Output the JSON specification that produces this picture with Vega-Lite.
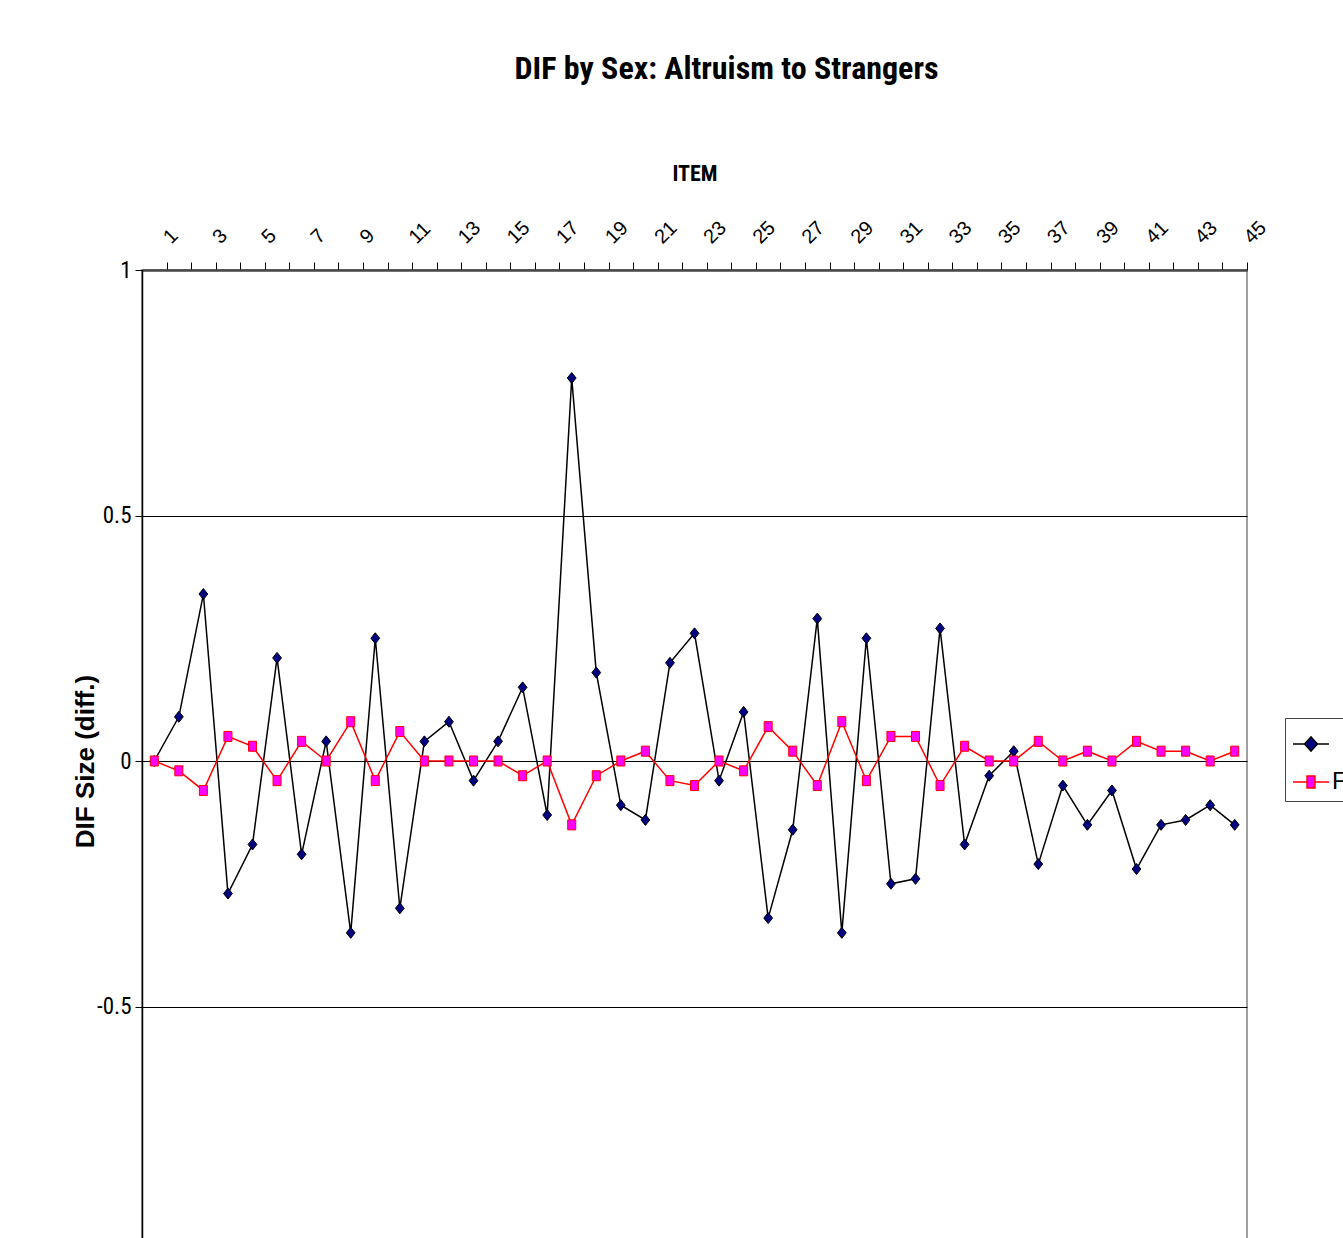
{
  "$schema": "https://vega.github.io/schema/vega-lite/v6.json",
  "autosize": {"type": "none"},
  "padding": {"left": 142, "top": 270, "right": 96, "bottom": 0},
  "width": 1105,
  "height": 982,
  "background": "white",
  "title": {
    "text": "DIF by Sex: Altruism to Strangers",
    "font": "Liberation Sans Narrow, Roboto Condensed, DejaVu Sans Condensed",
    "fontSize": 32,
    "fontWeight": "bold",
    "color": "black",
    "anchor": "middle",
    "frame": "group",
    "dx": 32,
    "offset": 76
  },
  "config": {
    "view": {"stroke": "#a0a0a0", "strokeWidth": 2}
  },
  "data": {
    "values": [
      {"item": 1, "series": "M", "dif": 0.00}, {"item": 1, "series": "F", "dif": 0.00},
      {"item": 2, "series": "M", "dif": 0.09}, {"item": 2, "series": "F", "dif": -0.02},
      {"item": 3, "series": "M", "dif": 0.34}, {"item": 3, "series": "F", "dif": -0.06},
      {"item": 4, "series": "M", "dif": -0.27}, {"item": 4, "series": "F", "dif": 0.05},
      {"item": 5, "series": "M", "dif": -0.17}, {"item": 5, "series": "F", "dif": 0.03},
      {"item": 6, "series": "M", "dif": 0.21}, {"item": 6, "series": "F", "dif": -0.04},
      {"item": 7, "series": "M", "dif": -0.19}, {"item": 7, "series": "F", "dif": 0.04},
      {"item": 8, "series": "M", "dif": 0.04}, {"item": 8, "series": "F", "dif": 0.00},
      {"item": 9, "series": "M", "dif": -0.35}, {"item": 9, "series": "F", "dif": 0.08},
      {"item": 10, "series": "M", "dif": 0.25}, {"item": 10, "series": "F", "dif": -0.04},
      {"item": 11, "series": "M", "dif": -0.30}, {"item": 11, "series": "F", "dif": 0.06},
      {"item": 12, "series": "M", "dif": 0.04}, {"item": 12, "series": "F", "dif": 0.00},
      {"item": 13, "series": "M", "dif": 0.08}, {"item": 13, "series": "F", "dif": 0.00},
      {"item": 14, "series": "M", "dif": -0.04}, {"item": 14, "series": "F", "dif": 0.00},
      {"item": 15, "series": "M", "dif": 0.04}, {"item": 15, "series": "F", "dif": 0.00},
      {"item": 16, "series": "M", "dif": 0.15}, {"item": 16, "series": "F", "dif": -0.03},
      {"item": 17, "series": "M", "dif": -0.11}, {"item": 17, "series": "F", "dif": 0.00},
      {"item": 18, "series": "M", "dif": 0.78}, {"item": 18, "series": "F", "dif": -0.13},
      {"item": 19, "series": "M", "dif": 0.18}, {"item": 19, "series": "F", "dif": -0.03},
      {"item": 20, "series": "M", "dif": -0.09}, {"item": 20, "series": "F", "dif": 0.00},
      {"item": 21, "series": "M", "dif": -0.12}, {"item": 21, "series": "F", "dif": 0.02},
      {"item": 22, "series": "M", "dif": 0.20}, {"item": 22, "series": "F", "dif": -0.04},
      {"item": 23, "series": "M", "dif": 0.26}, {"item": 23, "series": "F", "dif": -0.05},
      {"item": 24, "series": "M", "dif": -0.04}, {"item": 24, "series": "F", "dif": 0.00},
      {"item": 25, "series": "M", "dif": 0.10}, {"item": 25, "series": "F", "dif": -0.02},
      {"item": 26, "series": "M", "dif": -0.32}, {"item": 26, "series": "F", "dif": 0.07},
      {"item": 27, "series": "M", "dif": -0.14}, {"item": 27, "series": "F", "dif": 0.02},
      {"item": 28, "series": "M", "dif": 0.29}, {"item": 28, "series": "F", "dif": -0.05},
      {"item": 29, "series": "M", "dif": -0.35}, {"item": 29, "series": "F", "dif": 0.08},
      {"item": 30, "series": "M", "dif": 0.25}, {"item": 30, "series": "F", "dif": -0.04},
      {"item": 31, "series": "M", "dif": -0.25}, {"item": 31, "series": "F", "dif": 0.05},
      {"item": 32, "series": "M", "dif": -0.24}, {"item": 32, "series": "F", "dif": 0.05},
      {"item": 33, "series": "M", "dif": 0.27}, {"item": 33, "series": "F", "dif": -0.05},
      {"item": 34, "series": "M", "dif": -0.17}, {"item": 34, "series": "F", "dif": 0.03},
      {"item": 35, "series": "M", "dif": -0.03}, {"item": 35, "series": "F", "dif": 0.00},
      {"item": 36, "series": "M", "dif": 0.02}, {"item": 36, "series": "F", "dif": 0.00},
      {"item": 37, "series": "M", "dif": -0.21}, {"item": 37, "series": "F", "dif": 0.04},
      {"item": 38, "series": "M", "dif": -0.05}, {"item": 38, "series": "F", "dif": 0.00},
      {"item": 39, "series": "M", "dif": -0.13}, {"item": 39, "series": "F", "dif": 0.02},
      {"item": 40, "series": "M", "dif": -0.06}, {"item": 40, "series": "F", "dif": 0.00},
      {"item": 41, "series": "M", "dif": -0.22}, {"item": 41, "series": "F", "dif": 0.04},
      {"item": 42, "series": "M", "dif": -0.13}, {"item": 42, "series": "F", "dif": 0.02},
      {"item": 43, "series": "M", "dif": -0.12}, {"item": 43, "series": "F", "dif": 0.02},
      {"item": 44, "series": "M", "dif": -0.09}, {"item": 44, "series": "F", "dif": 0.00},
      {"item": 45, "series": "M", "dif": -0.13}, {"item": 45, "series": "F", "dif": 0.02}
    ]
  },
  "encoding": {
    "x": {
      "field": "item",
      "type": "ordinal",
      "sort": "ascending",
      "scale": {"type": "point", "padding": 0.5},
      "axis": {
        "orient": "top",
        "title": "ITEM",
        "labelAngle": -45,
        "labelAlign": "left",
        "labelBaseline": "middle",
        "labelExpr": "datum.value % 2 == 1 ? datum.label : ''",
        "labelOverlap": false,
        "labelFont": "Liberation Sans",
        "labelFontSize": 20,
        "labelColor": "black",
        "labelPadding": 22,
        "tickOffset": 12.28,
        "tickSize": 8,
        "tickColor": "black",
        "domainColor": "#444444",
        "domainWidth": 2.5,
        "grid": false,
        "titleFont": "Liberation Sans Narrow, Roboto Condensed, DejaVu Sans Condensed",
        "titleFontSize": 22,
        "titleFontWeight": "bold",
        "titleColor": "black",
        "titleY": -97,
        "titleBaseline": "middle"
      }
    },
    "y": {
      "field": "dif",
      "type": "quantitative",
      "scale": {"domain": [-1, 1], "nice": false, "zero": false},
      "axis": {
        "values": [-0.5, 0, 0.5, 1],
        "labelExpr": "datum.value + ''",
        "labelFont": "Liberation Sans Narrow, Roboto Condensed, Liberation Sans",
        "labelFontSize": 23,
        "labelColor": "black",
        "labelPadding": 4,
        "tickSize": 7,
        "tickColor": "black",
        "domainColor": "black",
        "domainWidth": 1.5,
        "grid": true,
        "gridColor": "black",
        "gridWidth": 1,
        "gridOpacity": 1,
        "title": "DIF Size (diff.)",
        "titleFont": "Liberation Sans",
        "titleFontSize": 26,
        "titleFontWeight": "bold",
        "titleColor": "black",
        "titleAngle": -90,
        "titleX": -57,
        "titleY": 491,
        "titleAlign": "center",
        "titleBaseline": "middle"
      }
    },
    "stroke": {
      "field": "series",
      "type": "nominal",
      "scale": {"domain": ["M", "F"], "range": ["#000000", "#ff0000"]},
      "legend": {
        "title": null,
        "orient": "none",
        "legendX": 1143,
        "legendY": 448,
        "direction": "vertical",
        "symbolSize": 1296,
        "symbolStrokeWidth": 1.5,
        "labelFont": "Liberation Sans",
        "labelFontSize": 24,
        "labelColor": "black",
        "labelOffset": 2,
        "rowPadding": 7,
        "padding": 7,
        "strokeColor": "#444444",
        "fillColor": "white",
        "labelExpr": "datum.value == 'F' ? 'F' : ''",
        "encode": {
          "symbols": {
            "update": {
              "shape": {"signal": "datum.value == 'F' ? 'M-1,0H-0.22V-0.33H0.22V0.33H-0.22V0ZM0.22,0H1' : 'M-1,0H-0.36L0,-0.4L0.36,0L0,0.4L-0.36,0ZM0.36,0H1'"},
              "fill": {"signal": "datum.value == 'F' ? '#ff00ff' : '#000080'"},
              "fillOpacity": {"value": 1},
              "opacity": {"value": 1}
            }
          }
        }
      }
    }
  },
  "layer": [
    {
      "mark": {"type": "line", "strokeWidth": 1.5}
    },
    {
      "transform": [{"filter": "datum.series == 'M'"}],
      "mark": {"type": "point", "shape": "M0,-1L0.8,0L0,1L-0.8,0Z", "size": 121, "fill": "#000080", "fillOpacity": 1, "strokeWidth": 1, "opacity": 1}
    },
    {
      "transform": [{"filter": "datum.series == 'F'"}],
      "mark": {"type": "point", "shape": "M-0.73,-0.91H0.73V0.91H-0.73Z", "size": 121, "fill": "#ff00ff", "fillOpacity": 1, "strokeWidth": 1, "opacity": 1}
    }
  ]
}
